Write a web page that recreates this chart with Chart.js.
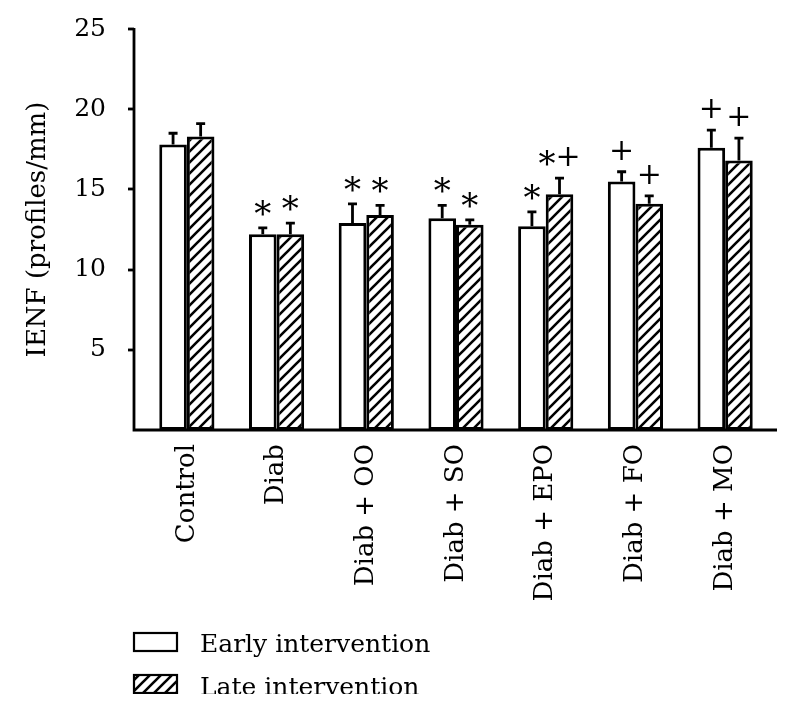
<!DOCTYPE html>
<html>
<head>
<meta charset="utf-8">
<script src="https://cdn.jsdelivr.net/npm/chart.js@4/dist/chart.umd.min.js"></script>
<style>
  html, body { margin: 0; padding: 0; background: #fff; }
  #wrap { width: 799px; height: 715px; }
</style>
</head>
<body>
<div id="wrap"><canvas id="chart" width="799" height="715"></canvas></div>
<script>
// data
const groups = ['Control', 'Diab', 'Diab + OO', 'Diab + SO', 'Diab + EPO', 'Diab + FO', 'Diab + MO'];
const earlyMean = [17.8, 12.2, 12.9, 13.2, 12.7, 15.5, 17.6];
const earlyErr  = [0.7, 0.4, 1.2, 0.8, 0.9, 0.6, 1.1];
const lateMean  = [18.3, 12.2, 13.4, 12.8, 14.7, 14.1, 16.8];
const lateErr   = [0.8, 0.7, 0.6, 0.3, 1.0, 0.5, 1.4];
const earlyMarks = ['', '*', '*', '*', '*', '+', '+'];
const lateMarks  = ['', '*', '*', '*', '*+', '+', '+'];
const yTicks = [5, 10, 15, 20, 25];

const FONT = 'DejaVu Serif';
Chart.defaults.font.family = FONT;
Chart.defaults.color = '#000';

// diagonal hatch for the late bars
function hatch() {
  const s = 11;
  const c = document.createElement('canvas');
  c.width = s; c.height = s;
  const g = c.getContext('2d');
  g.fillStyle = '#fff';
  g.fillRect(0, 0, s, s);
  g.strokeStyle = '#000';
  g.lineWidth = 2.6;
  g.beginPath();
  g.moveTo(0, s); g.lineTo(s, 0);
  g.moveTo(-s / 2, s / 2); g.lineTo(s / 2, -s / 2);
  g.moveTo(s / 2, s * 1.5); g.lineTo(s * 1.5, s / 2);
  g.stroke();
  return g.createPattern(c, 'repeat');
}
const hatchFill = hatch();

const errs = [earlyErr, lateErr];
const marks = [earlyMarks, lateMarks];

const extras = {
  id: 'extras',
  afterDatasetsDraw(chart) {
    const ctx = chart.ctx;
    const y = chart.scales.y;
    const area = chart.chartArea;
    ctx.save();
    ctx.strokeStyle = '#000';
    ctx.fillStyle = '#000';
    ctx.lineWidth = 2.8;

    // axes
    const ax = area.left - 8;
    ctx.beginPath();
    ctx.moveTo(ax, y.getPixelForValue(25) - 1);
    ctx.lineTo(ax, area.bottom);
    ctx.lineTo(area.right + 7, area.bottom);
    ctx.stroke();
    yTicks.forEach(v => {
      const py = Math.round(y.getPixelForValue(v));
      ctx.beginPath();
      ctx.moveTo(ax - 6, py);
      ctx.lineTo(ax, py);
      ctx.stroke();
    });

    // error bars + significance marks
    chart.data.datasets.forEach((ds, i) => {
      const meta = chart.getDatasetMeta(i);
      meta.data.forEach((bar, j) => {
        const top = y.getPixelForValue(ds.data[j] + errs[i][j]);
        ctx.beginPath();
        ctx.moveTo(bar.x, bar.y);
        ctx.lineTo(bar.x, top);
        ctx.moveTo(bar.x - 4.5, top);
        ctx.lineTo(bar.x + 4.5, top);
        ctx.stroke();

        const m = marks[i][j];
        if (!m) return;
        ctx.textBaseline = 'alphabetic';
        ctx.textAlign = 'left';
        const starFont = '34px "' + FONT + '"';
        const plusFont = '30px "' + FONT + '"';
        let w = 0;
        for (const ch of m) {
          ctx.font = ch === '*' ? starFont : plusFont;
          w += ctx.measureText(ch).width;
        }
        let x0 = bar.x - w / 2;
        const cy = top - 22;
        for (const ch of m) {
          ctx.font = ch === '*' ? starFont : plusFont;
          ctx.fillText(ch, x0, ch === '*' ? cy + 19 : cy + 10);
          x0 += ctx.measureText(ch).width;
        }
      });
    });
    ctx.restore();
  },
  afterDraw(chart) {
    // legend, two rows under the axis labels
    const ctx = chart.ctx;
    ctx.save();
    ctx.beginPath();
    ctx.rect(0, 0, chart.width, 694);
    ctx.clip();
    ctx.lineWidth = 2.2;
    ctx.strokeStyle = '#000';
    ctx.font = '25px "' + FONT + '"';
    ctx.textBaseline = 'alphabetic';
    ctx.textAlign = 'left';
    chart.data.datasets.forEach((ds, i) => {
      const top = 633 + i * 42;
      ctx.fillStyle = ds.backgroundColor;
      ctx.fillRect(134, top, 43, 18);
      ctx.strokeRect(134, top, 43, 18);
      ctx.fillStyle = '#000';
      ctx.fillText(ds.label, 200, top + 19 + i);
    });
    ctx.restore();
  }
};

new Chart(document.getElementById('chart'), {
  type: 'bar',
  data: {
    labels: groups,
    datasets: [
      {
        label: 'Early intervention',
        data: earlyMean,
        backgroundColor: '#fff',
        borderColor: '#000',
        borderWidth: 3,
        borderSkipped: false
      },
      {
        label: 'Late intervention',
        data: lateMean,
        backgroundColor: hatchFill,
        borderColor: '#000',
        borderWidth: 3,
        borderSkipped: false
      }
    ]
  },
  options: {
    responsive: false,
    animation: false,
    devicePixelRatio: 1,
    layout: { padding: { top: 29, right: 29, left: 0, bottom: 0 } },
    datasets: { bar: { categoryPercentage: 0.615, barPercentage: 1.0 } },
    plugins: {
      legend: { display: false },
      tooltip: { enabled: false }
    },
    scales: {
      x: {
        grid: { display: false, drawTicks: false },
        border: { display: false },
        ticks: { font: { size: 26 }, maxRotation: 90, minRotation: 90, padding: 14 },
        afterFit(s) { s.height = 285; }
      },
      y: {
        min: 0,
        max: 25,
        grid: { display: false, drawTicks: false },
        border: { display: false },
        ticks: {
          stepSize: 5,
          padding: 36,
          font: { size: 25 },
          callback: v => (v === 0 ? '' : v)
        },
        title: {
          display: true,
          text: 'IENF (profiles/mm)',
          font: { size: 26 },
          padding: { top: 23, bottom: 0 }
        },
        afterFit(s) {
          s.width = 142;
          s.paddingTop = 15;
          s.paddingBottom = 15;
        }
      }
    }
  },
  plugins: [extras]
});
</script>
</body>
</html>
